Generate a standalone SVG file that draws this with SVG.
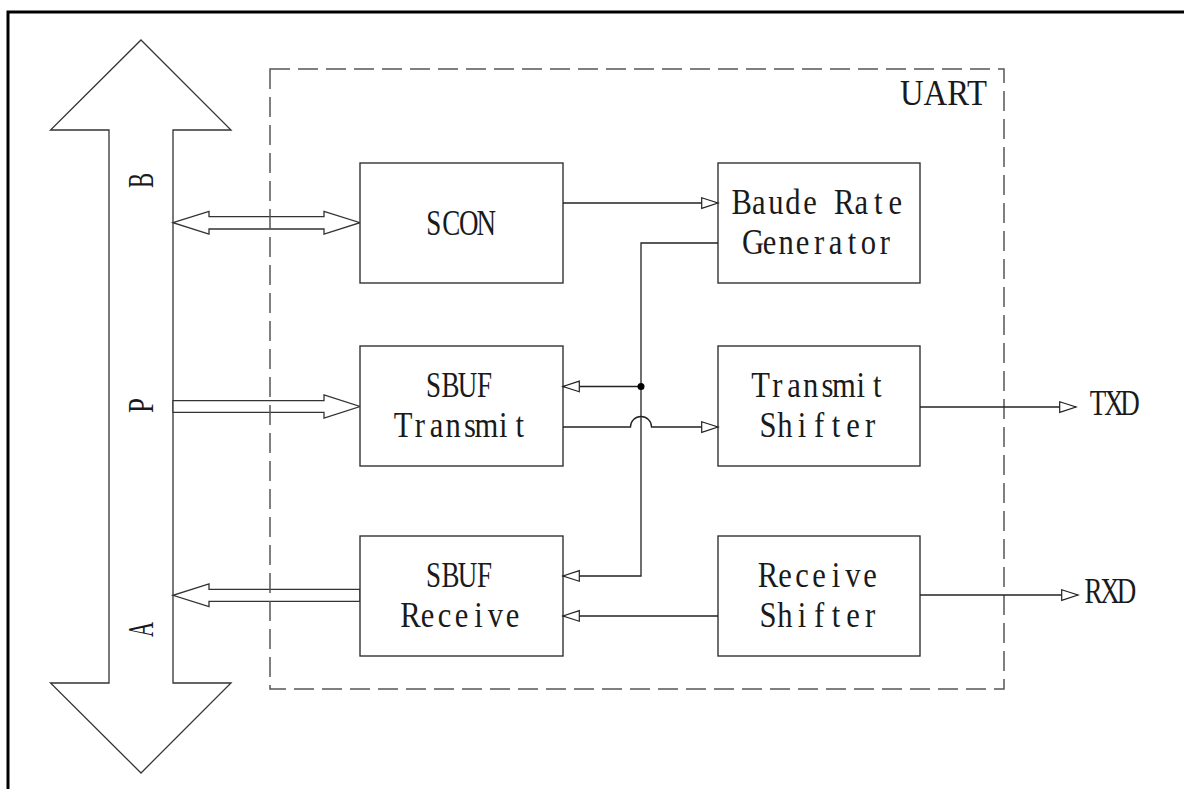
<svg xmlns="http://www.w3.org/2000/svg" width="1184" height="789" viewBox="0 0 1184 789">
<style>
.box{fill:#fff;stroke:#333;stroke-width:1.4}
.wire{fill:none;stroke:#222;stroke-width:1.3}
.fat{fill:#fff;stroke:#333;stroke-width:1.3;stroke-linejoin:miter}
.lbl{font-family:"Liberation Serif","Times New Roman",serif;font-size:36px;fill:#1a1a1a}
.mid{text-anchor:middle}
</style>
<defs>
<marker id="arr" markerUnits="userSpaceOnUse" markerWidth="20" markerHeight="14" refX="17" refY="6" orient="auto">
<path d="M0.7,0.7 L17,6 L0.7,11.3 Z" fill="#fff" stroke="#222" stroke-width="1.2"/>
</marker>
</defs>
<rect width="1184" height="789" fill="#fff"/>
<g id="frame">
<path d="M8,789 V12 H1184" fill="none" stroke="#000" stroke-width="3"/>
</g>
<g id="bus">
<polygon class="fat" points="141,40 231,130 173,130 173,683 231,683 141,773 50.5,683 109,683 109,130 50.5,130"/>
<text class="lbl mid" transform="translate(152.5,180.5) rotate(-90)" textLength="15" lengthAdjust="spacingAndGlyphs">B</text>
<text class="lbl mid" transform="translate(152.5,405.5) rotate(-90)" textLength="15" lengthAdjust="spacingAndGlyphs">P</text>
<text class="lbl mid" transform="translate(152.5,629.5) rotate(-90)" textLength="15" lengthAdjust="spacingAndGlyphs">A</text>
</g>
<g id="bus-links">
<polygon class="fat" points="173,222.7 209,211.5 209,216.7 324,216.7 324,211.5 360,222.7 324,234 324,229 209,229 209,234"/>
<polygon class="fat" points="173,400.7 324,400.7 324,395 360,406.5 324,418 324,412.3 173,412.3"/>
<polygon class="fat" points="360,589.3 209,589.3 209,584 173,595.3 209,606.7 209,601.3 360,601.3"/>
</g>
<g id="uart">
<rect x="270" y="69" width="734" height="620" fill="none" stroke="#555" stroke-width="1.5" stroke-dasharray="20,8"/>
<text class="lbl" x="900" y="105" font-size="31" textLength="87" lengthAdjust="spacingAndGlyphs">UART</text>
</g>
<g id="scon">
<rect class="box" x="360" y="163" width="203" height="120"/>
<text class="lbl mid" transform="translate(460,235) scale(0.75,1)" x="-35 -11.67 11.67 35" y="0">SCON</text>
</g>
<g id="baud">
<rect class="box" x="718" y="163" width="202" height="120"/>
<text class="lbl mid" transform="translate(818.5,214) scale(0.85,1)" x="-90.45 -70.35 -50.25 -30.15 -10.05 10.05 30.15 50.25 70.35 90.45" y="0">Baude Rate</text>
<text class="lbl mid" transform="translate(819,254) scale(0.85,1)" x="-77.6 -58.2 -38.8 -19.4 0 19.4 38.8 58.2 77.6" y="0">Generator</text>
</g>
<g id="sbuf-tx">
<rect class="box" x="360" y="346" width="203" height="120"/>
<text class="lbl mid" transform="translate(459,397) scale(0.75,1)" x="-34 -11.33 11.33 34" y="0">SBUF</text>
<text class="lbl mid" transform="translate(461.5,437) scale(0.85,1)" x="-68.6 -49 -29.4 -9.8 9.8 29.4 49 68.6" y="0">Transmit</text>
</g>
<g id="tx-shift">
<rect class="box" x="718" y="346" width="202" height="120"/>
<text class="lbl mid" transform="translate(819,397) scale(0.85,1)" x="-68.6 -49 -29.4 -9.8 9.8 29.4 49 68.6" y="0">Transmit</text>
<text class="lbl mid" transform="translate(819,437) scale(0.85,1)" x="-60 -40 -20 0 20 40 60" y="0">Shifter</text>
</g>
<g id="sbuf-rx">
<rect class="box" x="360" y="536" width="203" height="120"/>
<text class="lbl mid" transform="translate(459,587) scale(0.75,1)" x="-34 -11.33 11.33 34" y="0">SBUF</text>
<text class="lbl mid" transform="translate(461.5,627) scale(0.85,1)" x="-60 -40 -20 0 20 40 60" y="0">Receive</text>
</g>
<g id="rx-shift">
<rect class="box" x="718" y="536" width="202" height="120"/>
<text class="lbl mid" transform="translate(819,587) scale(0.85,1)" x="-60 -40 -20 0 20 40 60" y="0">Receive</text>
<text class="lbl mid" transform="translate(819,627) scale(0.85,1)" x="-60 -40 -20 0 20 40 60" y="0">Shifter</text>
</g>
<g id="connectors">
<path class="wire" d="M563,203 H718" marker-end="url(#arr)"/>
<path class="wire" d="M718,243 H641 V576 H563" marker-end="url(#arr)"/>
<path class="wire" d="M641,386.5 H563" marker-end="url(#arr)"/>
<circle cx="641" cy="386.5" r="3.5" fill="#000"/>
<path class="wire" d="M563,427 H630.5 A10.5,10.5 0 0 1 651.5,427 H718" marker-end="url(#arr)"/>
<path class="wire" d="M718,616 H563" marker-end="url(#arr)"/>
<path class="wire" d="M920,407 H1076" marker-end="url(#arr)"/>
<path class="wire" d="M920,595 H1078" marker-end="url(#arr)"/>
</g>
<g id="pins">
<text class="lbl mid" transform="translate(1114,415) scale(0.75,1)" font-size="33" x="-21.33 0 21.33" y="0">TXD</text>
<text class="lbl mid" transform="translate(1110,603) scale(0.75,1)" font-size="33" x="-22 0 22" y="0">RXD</text>
</g>
</svg>
